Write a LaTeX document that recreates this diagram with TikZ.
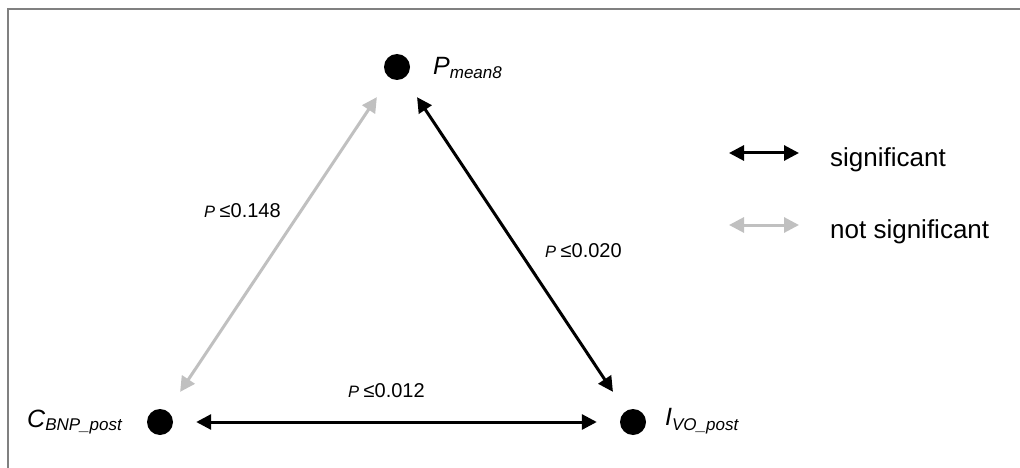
\documentclass[tikz,border=0pt]{standalone}
\usepackage{fontspec}
\setmainfont{Liberation Sans}
\usetikzlibrary{arrows.meta}
\definecolor{framegray}{HTML}{808080}
\definecolor{nsgray}{HTML}{C0C0C0}
\newcommand{\mainsz}{\fontsize{25}{28}\selectfont}
\newcommand{\subsz}{\fontsize{17}{19}\selectfont}
\newcommand{\psz}{\fontsize{16.5}{18}\selectfont}
\newcommand{\valsz}{\fontsize{20}{22}\selectfont}
\newcommand{\legsz}{\fontsize{26}{29}\selectfont}
\newcommand{\plab}[1]{{\psz\itshape P}\hspace{4.5pt}{\valsz ≤#1}}
\begin{document}
\begin{tikzpicture}[x=1pt,y=-1pt,
  dot/.style={circle, fill=black, inner sep=0pt, minimum size=26pt},
  tipped/.style={line width=3pt, {Triangle[length=15pt,width=15pt]}-{Triangle[length=15pt,width=15pt]}},
  sig/.style={tipped, draw=black},
  nsig/.style={tipped, draw=nsgray},
  short/.style={shorten <=23pt, shorten >=23pt},
  lbl/.style={inner sep=0pt, anchor=base west}]
\useasboundingbox (0,0) rectangle (1020,468);
\draw[framegray, line width=2pt] (1020,9) -- (8,9) -- (8,468);
% dots
\node[dot] (P) at (397,67) {};
\node[dot] (C) at (160,422) {};
\node[dot] (I) at (633,422) {};
% node labels
\node[lbl] (Plab) at (433,75) {\mainsz\itshape P\raisebox{-4pt}{\subsz mean8}};
\node[lbl] (Clab) at (27,427) {\mainsz\itshape C\raisebox{-3pt}{\subsz BNP\_post}};
\node[lbl] (Ilab) at (665,425) {\mainsz\itshape I\raisebox{-5pt}{\subsz VO\_post}};
% connectors
\draw[nsig, short] (P) -- (C);
\draw[sig, short] (P) -- (I);
\draw[sig, short] (C) -- (I);
% p labels
\node[lbl] (p1) at (204,217) {\plab{0.148}};
\node[lbl] (p2) at (545,257) {\plab{0.020}};
\node[lbl] (p3) at (348,397) {\plab{0.012}};
% legend
\coordinate (s1) at (729,153);
\coordinate (s2) at (799,153);
\coordinate (n1) at (729,225);
\coordinate (n2) at (799,225);
\draw[sig] (s1) -- (s2);
\draw[nsig] (n1) -- (n2);
\node[lbl] (sigtext) at (830,167) {\legsz significant};
\node[lbl] (nsigtext) at (830,238) {\legsz not significant};
\end{tikzpicture}
\end{document}
